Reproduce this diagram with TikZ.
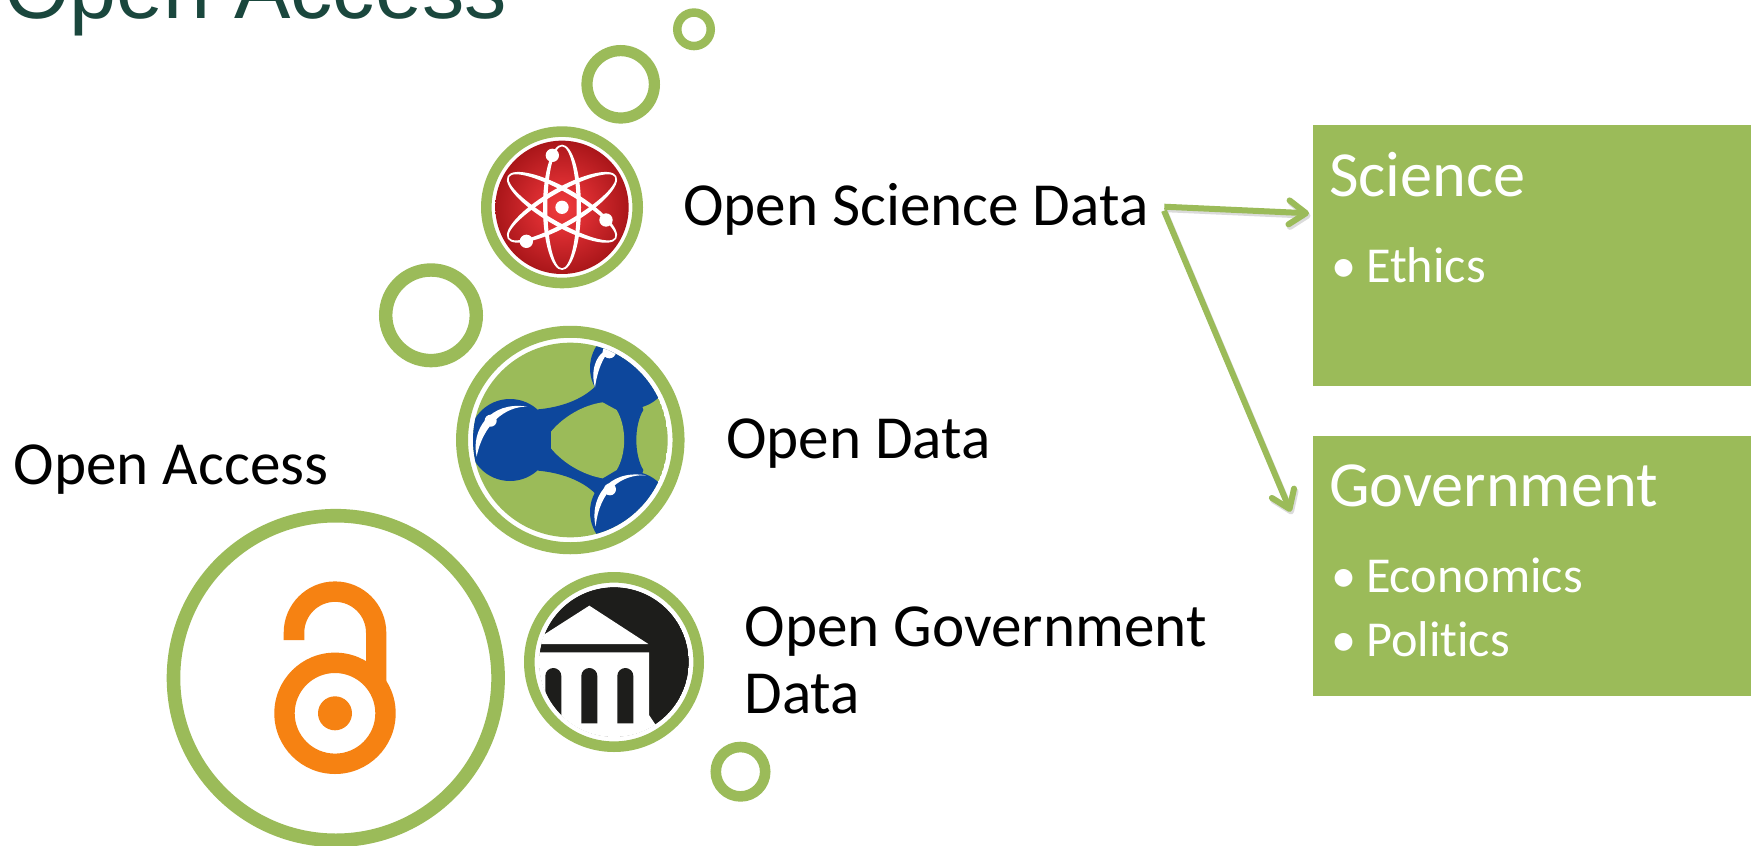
\documentclass[tikz,border=0pt]{standalone}
\usepackage{fontspec}
\setmainfont{Carlito}[Ligatures=NoCommon]
\newfontfamily\titlefont{Liberation Sans}
\usetikzlibrary{arrows.meta}
\definecolor{ogreen}{HTML}{9BBB59}
\definecolor{oorange}{HTML}{F68212}
\definecolor{oblue}{HTML}{0D479C}
\definecolor{oblack}{HTML}{1D1D1B}
\definecolor{otitle}{HTML}{1A473D}
\definecolor{redA}{HTML}{F03D3D}
\definecolor{redB}{HTML}{D92C30}
\definecolor{redC}{HTML}{B61C20}
\definecolor{redD}{HTML}{9E1013}
\definecolor{redE}{HTML}{7E0305}
\pgfdeclareradialshading{redball}{\pgfpointorigin}{
  color(0bp)=(redA);
  color(10bp)=(redB);
  color(21bp)=(redC);
  color(29bp)=(redD);
  color(35bp)=(redE);
  color(50bp)=(redE)}
\tikzset{
  ring/.style={circle,draw=ogreen,fill=none,inner sep=0pt,outer sep=0pt},
  lbl/.style={anchor=base west,inner sep=0pt,outer sep=0pt,text=black,font=\fontsize{61.2}{67}\selectfont},
  head/.style={anchor=base west,inner sep=0pt,outer sep=0pt,text=white,font=\fontsize{64.3}{70}\selectfont},
  item/.style={anchor=base west,inner sep=0pt,outer sep=0pt,text=white,font=\fontsize{50.3}{60}\selectfont},
  panel/.style={rectangle,fill=ogreen,draw=none,inner sep=0pt,outer sep=0pt,anchor=north west},
  link/.style={draw=ogreen,line width=6pt,-{Straight Barb[length=17pt,width=24pt,line width=6pt,round]}},
  linkshadow/.style={draw=black!55,opacity=0.25,line width=6pt,-{Straight Barb[length=17pt,width=24pt,line width=6pt,round]}},
  zoomed/.style={x=0.33333pt,y=-0.33333pt}
}
\begin{document}
\begin{tikzpicture}[x=1pt,y=-1pt]
\useasboundingbox (0,0) rectangle (1754,846);
\fill[white] (0,0) rectangle (1754,846);

% title, cut by the top edge
\node[anchor=base west,inner sep=0pt,text=otitle,font=\titlefont\fontsize{84.5}{90}\selectfont] (title) at (4,18.6) {Open Access};

% free circles
\node[ring,line width=8.5pt,minimum size=33.5pt] (bub1) at (694,29.3) {};
\node[ring,line width=11.2pt,minimum size=67.4pt] (bub2) at (620.7,84.3) {};
\node[ring,line width=13.4pt,minimum size=90.6pt] (bub3) at (431,315.3) {};
\node[ring,line width=10.6pt,minimum size=49.4pt] (bub4) at (740.5,771.7) {};

% open science icon
\begin{scope}[zoomed,shift={(460pt,0pt)}]
  \shade[shading=redball] (306,622) circle [radius=200];
  \foreach \a in {0,60,-60}{
    \fill[white,even odd rule,rotate around={\a:(306,622)}]
      (306,622) ellipse [x radius=57,y radius=188]
      (306,622) ellipse [x radius=44,y radius=183];
  }
  \fill[white] (306,622) circle [radius=20];
  \fill[white] (277,466) circle [radius=20];
  \fill[white] (438,660) circle [radius=20];
  \fill[white] (199,724) circle [radius=20];
\end{scope}
\node[ring,line width=10.6pt,minimum size=151.4pt] (sciring) at (562,207.3) {};

% open data icon
\begin{scope}[zoomed,shift={(440pt,-310pt)}]
  \begin{scope}
    \clip (391,390) circle [radius=292];
    \fill[ogreen] (391,390) circle [radius=292];
    \fill[oblue] (295,298) .. controls (360,292) and (425,270) .. (465,230)
      -- (572,174) -- (610,300)
      .. controls (582,345) and (582,435) .. (610,480)
      -- (572,606) -- (465,550)
      .. controls (425,510) and (360,488) .. (295,482)
      -- (210,390) -- cycle;
    \fill[oblue] (210,390) circle [radius=123];
    \fill[oblue] (572,174) circle [radius=122];
    \fill[oblue] (572,606) circle [radius=122];
    \fill[ogreen] (333,365) .. controls (370,320) and (430,285) .. (488,277)
      -- (530,300) .. controls (560,350) and (560,430) .. (530,480)
      -- (488,505) .. controls (430,495) and (370,460) .. (333,415) -- cycle;
    \fill[white] (110,440) .. controls (92,360) and (150,272) .. (262,290)
      .. controls (195,288) and (128,345) .. (110,440) -- cycle;
    \fill[white] (152,332) circle [radius=18];
    \fill[white] (465,232) .. controls (450,180) and (468,122) .. (522,110)
      .. controls (492,130) and (472,180) .. (465,232) -- cycle;
    \fill[white] (508,125) circle [radius=20];
    \fill[white] (467,650) .. controls (448,570) and (500,476) .. (618,496)
      .. controls (545,492) and (478,540) .. (467,650) -- cycle;
    \fill[white] (510,538) circle [radius=18];
  \end{scope}
\end{scope}
\node[ring,line width=12pt,minimum size=216.5pt] (dataring) at (570.3,440) {};

% open government icon
\begin{scope}[zoomed,shift={(500pt,-560pt)}]
  \begin{scope}
    \clip (342,306) circle [radius=225];
    \fill[oblack] (342,306) circle [radius=225];
    \fill[white] (268,137) -- (445,252) -- (90,252) -- (90,222) -- (135,222) -- cycle;
    \fill[white] (90,277) -- (447,277) -- (447,465) -- (467,495) -- (467,600) -- (90,600) -- cycle;
    \fill[oblack] (136,490) -- (136,348) arc [start angle=180,end angle=360,radius=24] -- (184,490) -- cycle;
    \fill[oblack] (244,490) -- (244,348) arc [start angle=180,end angle=360,radius=24] -- (292,490) -- cycle;
    \fill[oblack] (352,490) -- (352,348) arc [start angle=180,end angle=360,radius=24] -- (400,490) -- cycle;
  \end{scope}
  \draw[white,line width=2.6pt] (342,306) circle [radius=228.5];
\end{scope}
\node[ring,line width=10.6pt,minimum size=169.4pt] (govring) at (614,662) {};

% open access icon
\node[ring,line width=13.6pt,minimum size=324.6pt] (oaring) at (335.8,678) {};
\fill[oorange,even odd rule] (335,713.3) circle [radius=60.7] (335,713.3) circle [radius=40.3];
\fill[oorange] (335,713.3) circle [radius=17];
\fill[oorange] (283.7,640) -- (283.7,632.7) arc [start angle=180,end angle=360,radius=51.3]
  -- (386.3,681.7) -- (366,661.7) -- (366,632.7) arc [start angle=0,end angle=-180,radius=30.85]
  -- (304.3,640) -- cycle;

% labels
\node[lbl] (loa) at (13.8,484.5) {Open Access};
\node[lbl] (lsci) at (683,225.3) {Open Science Data};
\node[lbl] (ldata) at (726,458.3) {Open Data};
\node[lbl] (lgov1) at (744.5,646) {Open Government};
\node[lbl] (lgov2) at (744.5,713) {Data};

% panels
\node[panel,minimum width=438pt,minimum height=260.7pt] (sci) at (1312.7,125.3) {};
\node[panel,minimum width=438pt,minimum height=260.3pt] (gov) at (1312.7,435.7) {};
\node[head] (hsci) at (1329,196) {Science};
\node[item] (bsci) at (1331,282) {•};
\node[item] (tsci) at (1366,282) {Ethics};
\node[head] (hgov) at (1329,506) {Government};
\node[item] (bgov1) at (1331,592.3) {•};
\node[item] (tgov1) at (1366,592.3) {Economics};
\node[item] (bgov2) at (1331,656.7) {•};
\node[item] (tgov2) at (1366,656.7) {Politics};

% connectors
\coordinate (srcA) at (1164.3,206.7);
\coordinate (srcB) at (1164,210.7);
\coordinate (endA) at (1309,213.3);
\coordinate (endB) at (1290.7,511.7);
\coordinate (srcAs) at (1165.8,209.2);
\coordinate (srcBs) at (1165.5,213.2);
\coordinate (endAs) at (1310.5,215.8);
\coordinate (endBs) at (1292.2,514.2);
\draw[linkshadow] (srcAs) -- (endAs);
\draw[linkshadow] (srcBs) -- (endBs);
\draw[link] (srcA) -- (endA);
\draw[link] (srcB) -- (endB);
\end{tikzpicture}
\end{document}
